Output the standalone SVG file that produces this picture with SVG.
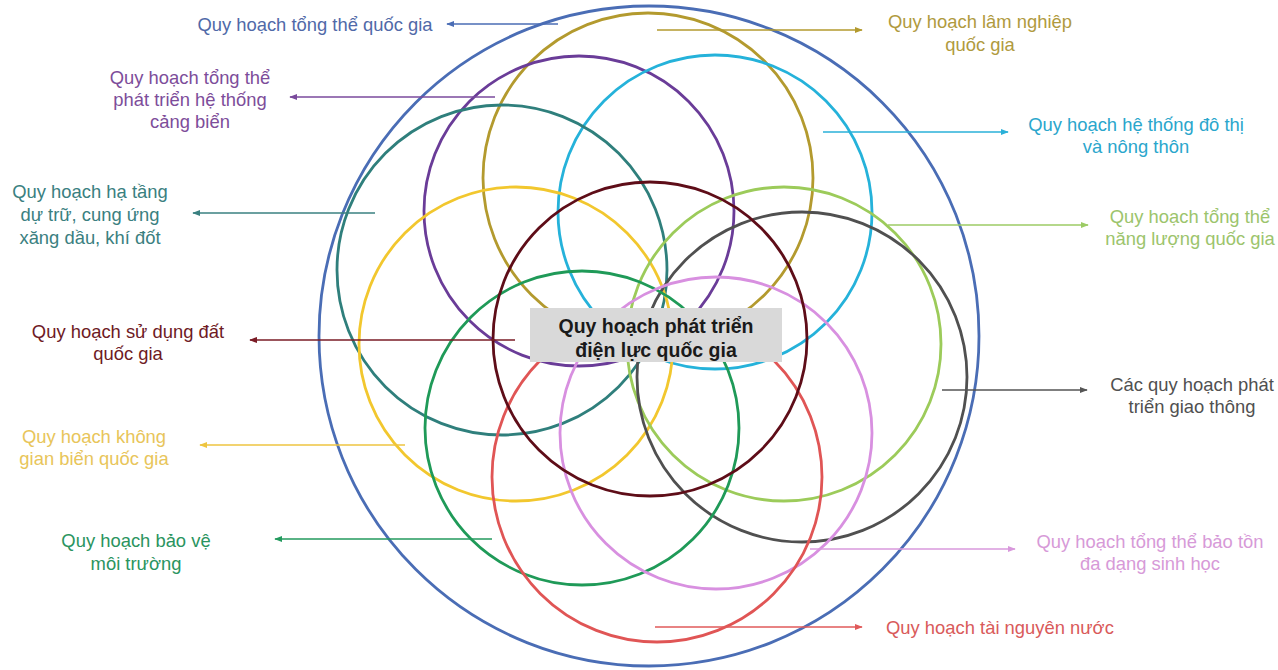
<svg xmlns="http://www.w3.org/2000/svg" width="1278" height="670" viewBox="0 0 1278 670">
<style>
.c{fill:none;stroke-width:2.8}
.t{font-family:"Liberation Sans",Arial,sans-serif;font-size:18.4px;text-anchor:middle}
.ts{font-family:"Liberation Sans",Arial,sans-serif;font-size:18.4px}
.a{stroke-width:1.6;fill:none}
.ct{font-family:"Liberation Sans",Arial,sans-serif;font-size:19.5px;font-weight:bold;text-anchor:middle;fill:#1a1a1a}
</style>
<defs>
<marker id="mBlue" viewBox="0 0 10 10" refX="9" refY="5" markerWidth="8" markerHeight="8" markerUnits="userSpaceOnUse" orient="auto"><path d="M0,1 L10,5 L0,9 Z" fill="#4a6db5"/></marker>
<marker id="mGold" viewBox="0 0 10 10" refX="9" refY="5" markerWidth="8" markerHeight="8" markerUnits="userSpaceOnUse" orient="auto"><path d="M0,1 L10,5 L0,9 Z" fill="#b39a2e"/></marker>
<marker id="mPurple" viewBox="0 0 10 10" refX="9" refY="5" markerWidth="8" markerHeight="8" markerUnits="userSpaceOnUse" orient="auto"><path d="M0,1 L10,5 L0,9 Z" fill="#7a4a9c"/></marker>
<marker id="mCyan" viewBox="0 0 10 10" refX="9" refY="5" markerWidth="8" markerHeight="8" markerUnits="userSpaceOnUse" orient="auto"><path d="M0,1 L10,5 L0,9 Z" fill="#2ab0d8"/></marker>
<marker id="mTeal" viewBox="0 0 10 10" refX="9" refY="5" markerWidth="8" markerHeight="8" markerUnits="userSpaceOnUse" orient="auto"><path d="M0,1 L10,5 L0,9 Z" fill="#3a8080"/></marker>
<marker id="mLgreen" viewBox="0 0 10 10" refX="9" refY="5" markerWidth="8" markerHeight="8" markerUnits="userSpaceOnUse" orient="auto"><path d="M0,1 L10,5 L0,9 Z" fill="#9ccb64"/></marker>
<marker id="mDred" viewBox="0 0 10 10" refX="9" refY="5" markerWidth="8" markerHeight="8" markerUnits="userSpaceOnUse" orient="auto"><path d="M0,1 L10,5 L0,9 Z" fill="#7a1c26"/></marker>
<marker id="mGray" viewBox="0 0 10 10" refX="9" refY="5" markerWidth="8" markerHeight="8" markerUnits="userSpaceOnUse" orient="auto"><path d="M0,1 L10,5 L0,9 Z" fill="#555555"/></marker>
<marker id="mYellow" viewBox="0 0 10 10" refX="9" refY="5" markerWidth="8" markerHeight="8" markerUnits="userSpaceOnUse" orient="auto"><path d="M0,1 L10,5 L0,9 Z" fill="#eec540"/></marker>
<marker id="mPink" viewBox="0 0 10 10" refX="9" refY="5" markerWidth="8" markerHeight="8" markerUnits="userSpaceOnUse" orient="auto"><path d="M0,1 L10,5 L0,9 Z" fill="#d898dc"/></marker>
<marker id="mGreen" viewBox="0 0 10 10" refX="9" refY="5" markerWidth="8" markerHeight="8" markerUnits="userSpaceOnUse" orient="auto"><path d="M0,1 L10,5 L0,9 Z" fill="#239a5e"/></marker>
<marker id="mRed" viewBox="0 0 10 10" refX="9" refY="5" markerWidth="8" markerHeight="8" markerUnits="userSpaceOnUse" orient="auto"><path d="M0,1 L10,5 L0,9 Z" fill="#e05a5a"/></marker>
</defs>
<rect width="1278" height="670" fill="#ffffff"/>

<g id="circles">
<circle id="c-tongthe" class="c" cx="649" cy="336" r="330" stroke="#4a6db5"/>
<circle id="c-lamnghiep" class="c" cx="648" cy="178" r="165" stroke="#b39a2e"/>
<circle id="c-cangbien" class="c" cx="579" cy="211" r="155" stroke="#6a3c98"/>
<circle id="c-dothi" class="c" cx="715" cy="212" r="157" stroke="#25b2da"/>
<circle id="c-hatang" class="c" cx="502" cy="270" r="165" stroke="#2f7f7c"/>
<circle id="c-bien" class="c" cx="516" cy="344" r="157" stroke="#f2c72e"/>
<circle id="c-nangluong" class="c" cx="784" cy="344" r="157" stroke="#9ccb5a"/>
<circle id="c-giaothong" class="c" cx="802" cy="377" r="165" stroke="#505050"/>
<circle id="c-moitruong" class="c" cx="582" cy="428" r="157" stroke="#1f9a58"/>
<circle id="c-baoton" class="c" cx="716" cy="433" r="156" stroke="#d890e0"/>
<circle id="c-nuoc" class="c" cx="657" cy="477" r="165" stroke="#e05555"/>
<circle id="c-dat" class="c" cx="650" cy="339" r="157" stroke="#5e0d18"/>
</g>

<g id="connectors">
<line class="a" x1="558" y1="24" x2="447" y2="24" stroke="#4a6db5" marker-end="url(#mBlue)"/>
<line class="a" x1="657" y1="30" x2="862" y2="30" stroke="#b39a2e" marker-end="url(#mGold)"/>
<line class="a" x1="495" y1="97" x2="290" y2="97" stroke="#7a4a9c" marker-end="url(#mPurple)"/>
<line class="a" x1="823" y1="132" x2="1008" y2="132" stroke="#2ab0d8" marker-end="url(#mCyan)"/>
<line class="a" x1="375" y1="213" x2="193" y2="213" stroke="#3a8080" marker-end="url(#mTeal)"/>
<line class="a" x1="888" y1="225" x2="1088" y2="225" stroke="#9ccb64" marker-end="url(#mLgreen)"/>
<line class="a" x1="515" y1="340" x2="250" y2="340" stroke="#7a1c26" marker-end="url(#mDred)"/>
<line class="a" x1="942" y1="390" x2="1087" y2="390" stroke="#555555" marker-end="url(#mGray)"/>
<line class="a" x1="405" y1="445" x2="200" y2="445" stroke="#eec540" marker-end="url(#mYellow)"/>
<line class="a" x1="492" y1="539" x2="275" y2="539" stroke="#239a5e" marker-end="url(#mGreen)"/>
<line class="a" x1="810" y1="549" x2="1015" y2="549" stroke="#d898dc" marker-end="url(#mPink)"/>
<line class="a" x1="655" y1="627" x2="862" y2="627" stroke="#e05a5a" marker-end="url(#mRed)"/>
</g>

<g id="center-node">
<rect x="530" y="308" width="252" height="54" fill="#d9d9d9"/>
<text class="ct" x="656" y="333">Quy hoạch phát triển</text>
<text class="ct" x="656" y="357">điện lực quốc gia</text>
</g>

<g id="label-tongthe"><text class="t" x="315" y="31" fill="#5069a8">Quy hoạch tổng thể quốc gia</text></g>
<g id="label-lamnghiep"><text class="t" x="980" y="28" fill="#b09a3e"><tspan x="980">Quy hoạch lâm nghiệp</tspan><tspan x="980" y="51">quốc gia</tspan></text></g>
<g id="label-cangbien"><text class="t" x="190" y="84" fill="#7d4d9a"><tspan x="190">Quy hoạch tổng thể</tspan><tspan x="190" y="106">phát triển hệ thống</tspan><tspan x="190" y="128">cảng biển</tspan></text></g>
<g id="label-dothi"><text class="t" x="1136" y="131" fill="#2aa6cc"><tspan x="1136">Quy hoạch hệ thống đô thị</tspan><tspan x="1136" y="153">và nông thôn</tspan></text></g>
<g id="label-hatang"><text class="t" x="90" y="198" fill="#3a8080"><tspan x="90">Quy hoạch hạ tầng</tspan><tspan x="90" y="221">dự trữ, cung ứng</tspan><tspan x="90" y="244">xăng dầu, khí đốt</tspan></text></g>
<g id="label-nangluong"><text class="t" x="1190" y="223" fill="#9cc46c"><tspan x="1190">Quy hoạch tổng thể</tspan><tspan x="1190" y="245">năng lượng quốc gia</tspan></text></g>
<g id="label-dat"><text class="t" x="128" y="338" fill="#6e1a24"><tspan x="128">Quy hoạch sử dụng đất</tspan><tspan x="128" y="360">quốc gia</tspan></text></g>
<g id="label-giaothong"><text class="t" x="1192" y="391" fill="#505050"><tspan x="1192">Các quy hoạch phát</tspan><tspan x="1192" y="413">triển giao thông</tspan></text></g>
<g id="label-bien"><text class="t" x="94" y="443" fill="#e8c55a"><tspan x="94">Quy hoạch không</tspan><tspan x="94" y="465">gian biển quốc gia</tspan></text></g>
<g id="label-moitruong"><text class="t" x="136" y="547" fill="#2a9460"><tspan x="136">Quy hoạch bảo vệ</tspan><tspan x="136" y="570">môi trường</tspan></text></g>
<g id="label-baoton"><text class="t" x="1150" y="548" fill="#d79ad8"><tspan x="1150">Quy hoạch tổng thể bảo tồn</tspan><tspan x="1150" y="570">đa dạng sinh học</tspan></text></g>
<g id="label-nuoc"><text class="ts" x="886" y="634" fill="#d95a5a">Quy hoạch tài nguyên nước</text></g>
</svg>
